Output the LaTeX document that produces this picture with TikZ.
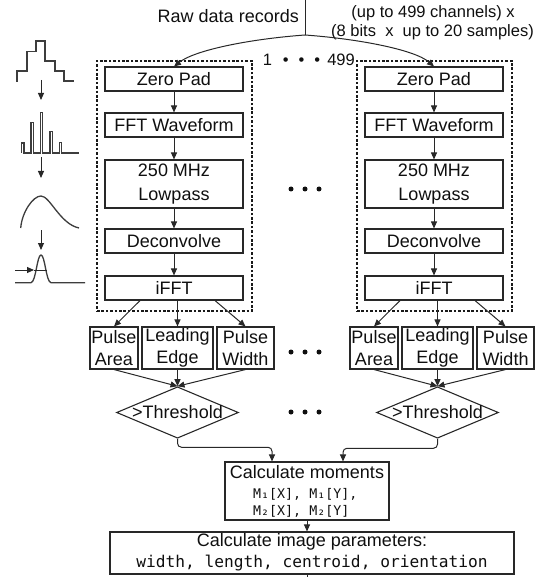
\documentclass[tikz,border=0pt]{standalone}
\usepackage{fontspec}
\setmainfont{Liberation Sans}
\newfontfamily\monof{DejaVu Sans Mono}
\usetikzlibrary{calc,shapes.geometric,arrows.meta}
\definecolor{lncol}{RGB}{40,40,40}
\definecolor{txcol}{RGB}{15,15,15}
\newcommand\fbig{\fontsize{18}{24}\selectfont}
\newcommand\fmid{\fontsize{16.5}{20}\selectfont}
\begin{document}
\begin{tikzpicture}[x=1pt,y=-1pt,
  every node/.style={text=txcol},
  box/.style={draw=lncol,line width=1.1pt,minimum width=138pt,inner sep=0pt,font=\fbig,align=center},
  one/.style={minimum height=24pt},
  two/.style={minimum height=48pt},
  pbox/.style={draw=lncol,line width=1.1pt,minimum height=42pt,inner sep=0pt,font=\fontsize{18}{22}\selectfont,align=center},
  arr/.style={draw=lncol,line width=1pt,-{Triangle[length=7pt,width=6pt]}},
  plain/.style={draw=lncol,line width=1pt},
  icon/.style={draw=lncol!90,line width=1.3pt},
  dbox/.style={draw=black!90,line width=2.2pt,dash pattern=on 2.6pt off 1.8pt,inner sep=0pt},
  thr/.style={draw=lncol,line width=1.1pt,shape=diamond,aspect=2.37,minimum width=121pt,minimum height=51pt,inner sep=0pt,font=\fbig},
  txt/.style={inner sep=0pt,font=\fbig},
]
\useasboundingbox (0,0) rectangle (542,577);

% header
\node[txt,anchor=east] (raw) at (299,16) {Raw data records};
\coordinate (top) at (305,0);
\coordinate (split) at (305,35);
\draw[plain] (top) -- (split);
\node[inner sep=0pt,font=\fmid] (ch1) at (433,13) {(up to 499 channels) x};
\node[inner sep=0pt,font=\fmid] (ch2) at (432.5,32) {(8 bits\ \ x\ \ up to 20 samples)};
\node[inner sep=0pt,font=\fmid,anchor=east] (cnt) at (355,60) {1\hspace{11pt}•\hspace{10pt}•\hspace{10pt}•\hspace{7pt}499};

% columns
\foreach \s/\cx in {L/174,R/434}{
  \node[box,one] (zp\s) at (\cx,79) {Zero Pad};
  \node[box,one] (fft\s) at (\cx,125) {FFT Waveform};
  \node[box,two] (lp\s) at (\cx,184) {250 MHz\\Lowpass};
  \node[box,one] (dc\s) at (\cx,241) {Deconvolve};
  \node[box,one] (if\s) at (\cx,288) {iFFT};
  \node[dbox,minimum width=155pt,minimum height=250pt] (db\s) at (\cx+0.5,186) {};
  \draw[arr] (zp\s) -- (fft\s);
  \draw[arr] (fft\s) -- (lp\s);
  \draw[arr] (lp\s) -- (dc\s);
  \draw[arr] (dc\s) -- (if\s);
  \node[pbox,minimum width=48pt] (pa\s) at (\cx-60,348) {Pulse\\Area};
  \node[pbox,minimum width=71pt] (le\s) at (\cx+3.5,348) {Leading\\Edge};
  \node[pbox,minimum width=57pt] (pw\s) at (\cx+71.5,348) {Pulse\\Width};
  \draw[arr] ($(if\s.south)+(-34,0)$) -- (pa\s.north);
  \draw[arr] (if\s.south -| le\s.north) -- (le\s.north);
  \draw[arr] ($(if\s.south)+(41,0)$) -- (pw\s.north);
  \node[thr] (th\s) at (\cx+3.5,412.5) {>Threshold};
  \draw[arr] (pa\s.south) -- (th\s.north);
  \draw[arr] (le\s.south) -- (th\s.north);
  \draw[arr] (pw\s.south) -- (th\s.north);
}
\draw[arr] (split) .. controls (250,39) and (195,50) .. (zpL.north);
\draw[arr] (split) .. controls (360,39) and (415,50) .. (zpR.north);

% ellipsis dots
\foreach \y in {189,352,412}{
  \foreach \x in {291,305,319}{
    \fill[txcol] (\x,\y) circle (2.5);
  }
}

% moments
\node[draw=lncol,line width=1.1pt,minimum width=164pt,minimum height=58pt,inner sep=0pt] (mom) at (307,491) {};
\node[txt] (momt) at (307,472) {Calculate moments};
\node[inner sep=0pt,anchor=west,font=\monof\fontsize{13.3}{16}\selectfont] (m1) at (253,494) {M₁[X], M₁[Y],};
\node[inner sep=0pt,anchor=west,font=\monof\fontsize{13.3}{16}\selectfont] (m2) at (253,511) {M₂[X], M₂[Y]};
\draw[arr,rounded corners=4pt] (thL.south) -- ++(0,8.5) -| ($(mom.north)+(-35,0)$);
\draw[arr,rounded corners=4pt] (thR.south) -- ++(0,9.5) -| ($(mom.north)+(36,0)$);

% image parameters
\node[draw=lncol,line width=1.1pt,minimum width=404pt,minimum height=42pt,inner sep=0pt] (par) at (312,553) {};
\node[txt] (part) at (312,542) {Calculate image parameters:};
\node[inner sep=0pt,font=\monof\fontsize{16.2}{20}\selectfont] (parm) at (312,563) {width, length, centroid, orientation};
\draw[arr] (mom.south) -- (mom.south |- par.north);
\coordinate (outp) at (307,578);
\draw[plain] (mom.south |- par.south) -- (outp);

% left icons
\draw[icon] (17,82) -- (17,71) -- (27,71) -- (27,51.5) -- (36,51.5) -- (36,41) -- (45,41) -- (45,61) -- (55,61) -- (55,71) -- (64,71) -- (64,81) -- (74,81);
\draw[arr] (41,80) -- (41,100);
\draw[icon] (21.7,153) -- (21.7,143) -- (24,143) -- (24,153) -- (31,153) -- (31,122.7) -- (33.3,122.7) -- (33.3,153) -- (40.7,153) -- (40.7,112.7) -- (42.7,112.7) -- (42.7,153) -- (50,153) -- (50,131.7) -- (52.3,131.7) -- (52.3,153) -- (59.3,153) -- (59.3,142.7) -- (61.7,142.7) -- (61.7,153) -- (79,153);
\draw[arr] (41,157) -- (41,178);
\draw[icon] (20.7,228) .. controls (22,212) and (33,196) .. (41,196) .. controls (50,196) and (60,224) .. (79,228);
\draw[arr] (41,230) -- (41,250);
\draw[icon] (15,282.7) -- (31,282.7) .. controls (36,282) and (37,255) .. (41,255) .. controls (45,255) and (46,282) .. (51,282.7) -- (85,282.7);
\draw[arr] (15,270) -- (34,270);
\draw[plain] (34,270) -- (47,270);
\end{tikzpicture}
\end{document}
